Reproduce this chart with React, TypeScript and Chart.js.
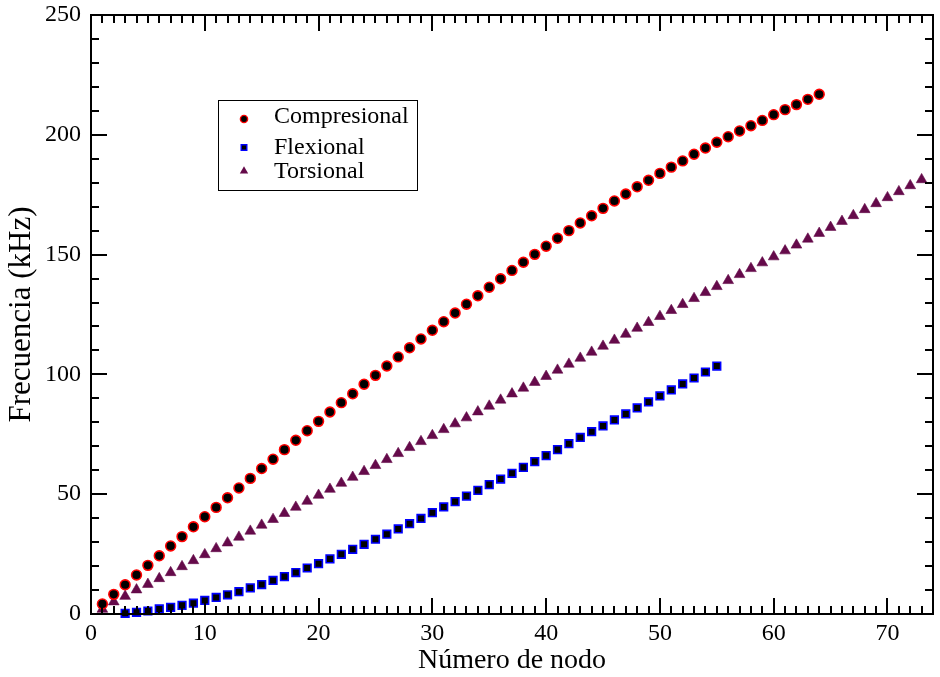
import React, { useEffect, useRef } from "react";
import { Chart, registerables } from "chart.js";

Chart.register(...registerables);

// ---- Data ----
const seriesNames = ["Compresional", "Flexional", "Torsional"];

const compresionalStart = 1;
const compresional = [
  4.2, 8.2, 12.2, 16.3, 20.3, 24.3, 28.4, 32.3, 36.4, 40.6,
  44.5, 48.5, 52.6, 56.6, 60.7, 64.6, 68.6, 72.5, 76.5, 80.4,
  84.3, 88.2, 91.9, 95.9, 99.6, 103.5, 107.3, 111.1, 114.8, 118.4,
  122.0, 125.6, 129.3, 132.8, 136.4, 139.9, 143.4, 146.8, 150.1, 153.5,
  156.8, 160.0, 163.2, 166.2, 169.3, 172.4, 175.3, 178.3, 181.0, 183.9,
  186.5, 189.1, 191.9, 194.5, 196.9, 199.2, 201.6, 203.8, 206.0, 208.4,
  210.5, 212.6, 214.8, 216.9,
];

const flexionalStart = 3;
const flexional = [
  0.3, 0.7, 1.25, 2.1, 2.8, 3.6, 4.5, 5.65, 6.9, 8.0,
  9.3, 10.9, 12.3, 14.0, 15.6, 17.3, 19.2, 21.0, 23.0, 24.9,
  27.0, 29.1, 31.2, 33.3, 35.5, 37.7, 39.9, 42.3, 44.7, 46.9,
  49.2, 51.6, 54.0, 56.3, 58.7, 61.2, 63.6, 66.1, 68.6, 71.1,
  73.7, 76.1, 78.5, 81.0, 83.5, 86.0, 88.5, 91.0, 93.5, 96.0,
  98.5, 101.0, 103.5,
];

const torsionalStart = 1;
const torsional = [
  2.0, 5.1, 7.4, 10.1, 12.4, 14.8, 17.3, 19.8, 22.3, 24.8,
  27.3, 29.7, 32.1, 34.6, 37.1, 39.5, 42.0, 44.6, 47.1, 49.6,
  52.1, 54.6, 57.1, 59.5, 62.0, 64.5, 67.0, 69.5, 72.0, 74.5,
  77.0, 79.4, 81.9, 84.4, 86.8, 89.3, 91.9, 94.3, 96.7, 99.2,
  101.8, 104.3, 106.8, 109.3, 111.8, 114.3, 116.8, 119.3, 121.7, 124.2,
  126.7, 129.2, 131.7, 134.2, 136.7, 139.2, 141.7, 144.2, 146.6, 149.1,
  151.6, 154.0, 156.5, 158.9, 161.4, 163.9, 166.3, 168.8, 171.3, 173.8,
  176.3, 178.8, 181.3,
];

const xMin = 0;
const xMax = 74;
const xMajorStep = 10;
const xMinorStep = 1;
const yMin = 0;
const yMax = 250;
const yMajorStep = 50;
const yMinorStep = 10;

const xTitle = "Número de nodo";
const yTitle = "Frecuencia (kHz)";

const SERIF = "'Liberation Serif', 'Times New Roman', serif";

const COL_C_FILL = "#000000";
const COL_C_BORDER = "#ff0000";
const COL_F_FILL = "#000000";
const COL_F_BORDER = "#0000ff";
const COL_T = "#650a4a";

const toPoints = (start: number, vals: number[]) =>
  vals.map((y, i) => ({ x: start + i, y }));

const frameTicksPlugin = {
  id: "frameTicks",
  afterDatasetsDraw(chart: any) {
    const { ctx, chartArea, scales } = chart;
    const { left, right, top, bottom } = chartArea;
    const xs = scales.x;
    const ys = scales.y;
    ctx.save();
    ctx.strokeStyle = "#000";
    ctx.lineWidth = 2;
    ctx.lineCap = "butt";
    const line = (x1: number, y1: number, x2: number, y2: number) => {
      ctx.beginPath();
      ctx.moveTo(x1, y1);
      ctx.lineTo(x2, y2);
      ctx.stroke();
    };
    const major = 16;
    const minor = 8;
    for (let v = xMin; v <= xMax + 1e-9; v += xMinorStep) {
      const px = Math.round(xs.getPixelForValue(v));
      const len = Math.abs(v % xMajorStep) < 1e-9 ? major : minor;
      line(px, bottom, px, bottom - len);
      line(px, top, px, top + len);
    }
    for (let v = yMin; v <= yMax + 1e-9; v += yMinorStep) {
      const py = Math.round(ys.getPixelForValue(v));
      const len = Math.abs(v % yMajorStep) < 1e-9 ? major : minor;
      line(left, py, left + len, py);
      line(right, py, right - len, py);
    }
    ctx.strokeRect(left, top, right - left, bottom - top);
    ctx.restore();
  },
};

const legendPlugin = {
  id: "customLegend",
  afterDraw(chart: any) {
    const { ctx } = chart;
    ctx.save();
    ctx.strokeStyle = "#000";
    ctx.lineWidth = 1;
    ctx.strokeRect(218.5, 100.5, 199, 90);
    const mx = 244;
    const rows = [119, 147.5, 171];
    // circle
    ctx.beginPath();
    ctx.arc(mx, rows[0], 3.6, 0, Math.PI * 2);
    ctx.fillStyle = COL_C_FILL;
    ctx.fill();
    ctx.lineWidth = 1.4;
    ctx.strokeStyle = COL_C_BORDER;
    ctx.stroke();
    // square
    ctx.beginPath();
    ctx.rect(mx - 2.8, rows[1] - 2.8, 5.6, 5.6);
    ctx.fillStyle = COL_F_FILL;
    ctx.fill();
    ctx.strokeStyle = COL_F_BORDER;
    ctx.lineWidth = 1.4;
    ctx.stroke();
    // triangle
    const r = 4.8;
    ctx.beginPath();
    ctx.moveTo(mx, rows[2] - r);
    ctx.lineTo(mx + r * 0.866, rows[2] + r / 2);
    ctx.lineTo(mx - r * 0.866, rows[2] + r / 2);
    ctx.closePath();
    ctx.fillStyle = COL_T;
    ctx.fill();
    // text
    ctx.fillStyle = "#000";
    ctx.font = `24px ${SERIF}`;
    ctx.textAlign = "left";
    ctx.textBaseline = "middle";
    const ty = [117, 148, 171.5];
    seriesNames.forEach((n, i) => ctx.fillText(n, 274, ty[i]));
    ctx.restore();
  },
};

export default function App() {
  const ref = useRef<HTMLCanvasElement | null>(null);

  useEffect(() => {
    document.body.style.margin = "0";
    const canvas = ref.current;
    if (!canvas) return;
    const chart = new Chart(canvas, {
      type: "scatter",
      data: {
        datasets: [
          {
            label: seriesNames[0],
            data: toPoints(compresionalStart, compresional),
            pointStyle: "circle",
            pointRadius: 4.9,
            pointHoverRadius: 4.9,
            backgroundColor: COL_C_FILL,
            borderColor: COL_C_BORDER,
            borderWidth: 1.6,
            showLine: false,
            clip: false as any,
          },
          {
            label: seriesNames[1],
            data: toPoints(flexionalStart, flexional),
            pointStyle: "rect",
            pointRadius: 5.4,
            pointHoverRadius: 5.4,
            backgroundColor: COL_F_FILL,
            borderColor: COL_F_BORDER,
            borderWidth: 1.6,
            showLine: false,
            clip: false as any,
          },
          {
            label: seriesNames[2],
            data: toPoints(torsionalStart, torsional),
            pointStyle: "triangle",
            pointRadius: 6.2,
            pointHoverRadius: 6.2,
            backgroundColor: COL_T,
            borderColor: COL_T,
            borderWidth: 0.6,
            showLine: false,
            clip: false as any,
          },
        ],
      },
      options: {
        animation: false,
        responsive: false,
        events: [],
        layout: { padding: { top: 15, right: 5, left: 0, bottom: 0 } },
        plugins: {
          legend: { display: false },
          tooltip: { enabled: false },
        },
        scales: {
          x: {
            type: "linear",
            min: xMin,
            max: xMax,
            grid: { display: false, drawTicks: false, tickLength: 0 },
            border: { display: false },
            ticks: {
              stepSize: xMajorStep,
              includeBounds: false,
              autoSkip: false,
              maxRotation: 0,
              color: "#000",
              padding: 5,
              font: { family: SERIF, size: 24 },
            },
            title: {
              display: true,
              text: xTitle,
              color: "#000",
              font: { family: SERIF, size: 28 },
              padding: { top: 0, bottom: 0 },
            },
            afterFit: (s: any) => {
              s.height = 63;
              s.paddingLeft = 0;
              s.paddingRight = 0;
            },
          },
          y: {
            type: "linear",
            min: yMin,
            max: yMax,
            grid: { display: false, drawTicks: false, tickLength: 0 },
            border: { display: false },
            ticks: {
              stepSize: yMajorStep,
              includeBounds: false,
              color: "#000",
              padding: 10,
              font: { family: SERIF, size: 24 },
            },
            title: {
              display: true,
              text: yTitle,
              color: "#000",
              font: { family: SERIF, size: 31 },
              padding: { top: 3, bottom: 0 },
            },
            afterFit: (s: any) => {
              s.width = 91;
              s.paddingTop = 0;
              s.paddingBottom = 0;
            },
          },
        },
      },
      plugins: [frameTicksPlugin, legendPlugin],
    });
    return () => chart.destroy();
  }, []);

  return (
    <div style={{ width: 940, height: 677, background: "#fff" }}>
      <canvas ref={ref} width={940} height={677} style={{ display: "block" }} />
    </div>
  );
}
